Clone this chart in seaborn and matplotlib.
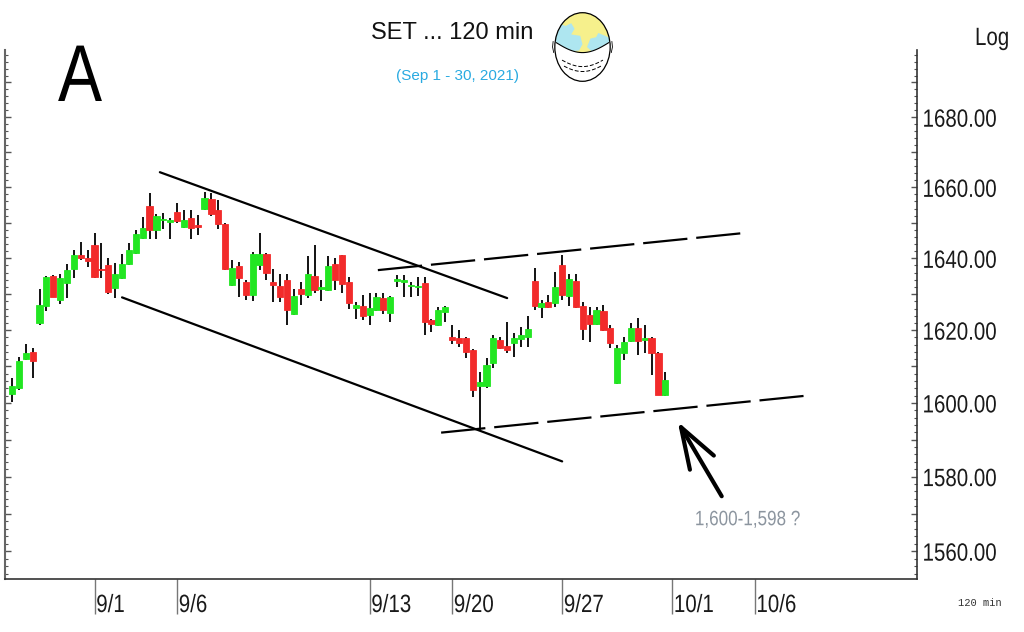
import numpy as np
import pandas as pd
import matplotlib
matplotlib.use('Agg')
import matplotlib.pyplot as plt
import matplotlib.ticker as mticker
import matplotlib.patheffects as pe
from matplotlib.transforms import Affine2D
from matplotlib.patches import Ellipse, Polygon
import seaborn as sns

# SET index, 120 min bars (4 per session), first bar three sessions before 9/1
opens = [1602.5, 1604.0, 1612.0, 1614.1, 1621.9, 1626.7, 1635.0, 1628.5, 1633.0, 1636.9,
         1641.0, 1640.2, 1643.7, 1637.0, 1638.1, 1631.7, 1634.6, 1638.3, 1641.5, 1645.8,
         1654.7, 1647.9, 1650.8, 1650.1, 1653.0, 1648.7, 1651.4, 1649.3, 1654.0, 1656.8,
         1653.5, 1649.6, 1632.5, 1637.8, 1633.3, 1629.7, 1638.1, 1641.1, 1633.3, 1632.2,
         1633.9, 1624.6, 1631.5, 1629.7, 1635.1, 1631.3, 1631.1, 1638.3, 1640.8, 1633.4,
         1626.2, 1626.6, 1624.2, 1625.7, 1628.8, 1624.8, 1633.6, 1633.4, 1632.2, 1632.0,
         1633.0, 1622.8, 1621.4, 1625.1, 1618.2, 1617.7, 1617.7, 1614.5, 1604.7, 1604.5,
         1610.9, 1617.3, 1615.6, 1616.4, 1617.5, 1618.2, 1633.7, 1626.3, 1627.9, 1627.4,
         1638.1, 1629.4, 1633.7, 1626.7, 1624.2, 1621.7, 1625.4, 1620.7, 1605.4, 1613.8,
         1617.1, 1620.7, 1617.3, 1617.7, 1613.6, 1602.2]
highs = [1606.8, 1612.7, 1616.2, 1615.0, 1631.4, 1635.0, 1635.3, 1635.7, 1638.3, 1642.3,
         1644.6, 1642.3, 1647.0, 1644.2, 1640.0, 1638.7, 1641.1, 1644.2, 1647.9, 1651.6,
         1658.4, 1652.6, 1652.7, 1651.2, 1655.6, 1653.5, 1653.7, 1652.1, 1658.7, 1658.4,
         1656.3, 1649.9, 1639.6, 1639.0, 1633.9, 1641.8, 1647.1, 1641.5, 1637.1, 1635.7,
         1635.5, 1631.3, 1633.4, 1640.6, 1643.7, 1633.9, 1640.6, 1640.2, 1641.0, 1634.8,
         1627.8, 1629.7, 1630.2, 1630.2, 1630.2, 1629.4, 1635.3, 1635.3, 1633.4, 1634.8,
         1634.8, 1623.0, 1626.5, 1626.7, 1621.4, 1620.0, 1618.0, 1614.8, 1608.6, 1612.2,
         1618.6, 1618.2, 1622.3, 1619.1, 1620.9, 1623.9, 1637.4, 1628.3, 1629.7, 1636.2,
         1640.8, 1635.5, 1635.5, 1627.9, 1626.5, 1626.5, 1626.9, 1621.4, 1615.9, 1618.2,
         1621.9, 1623.3, 1621.4, 1618.0, 1613.9, 1608.6]
lows = [1600.3, 1603.6, 1611.8, 1606.8, 1621.5, 1625.4, 1629.2, 1627.2, 1628.9, 1634.4,
        1639.4, 1637.5, 1634.4, 1634.4, 1630.0, 1628.8, 1634.3, 1638.0, 1641.2, 1645.5,
        1645.5, 1645.3, 1648.2, 1645.3, 1649.8, 1648.4, 1645.3, 1646.5, 1653.7, 1651.8,
        1648.1, 1636.6, 1632.2, 1629.1, 1628.3, 1628.1, 1636.7, 1633.9, 1627.8, 1627.8,
        1621.4, 1624.3, 1626.9, 1628.8, 1630.2, 1628.1, 1630.8, 1631.1, 1630.2, 1626.0,
        1623.0, 1622.8, 1621.4, 1625.4, 1624.6, 1622.3, 1632.0, 1629.1, 1629.1, 1629.4,
        1618.6, 1619.5, 1621.2, 1622.3, 1616.2, 1615.4, 1612.2, 1601.7, 1592.7, 1604.2,
        1609.5, 1614.7, 1613.6, 1612.5, 1615.3, 1615.4, 1625.6, 1623.5, 1626.2, 1626.5,
        1628.3, 1626.7, 1626.2, 1617.3, 1616.8, 1621.4, 1619.7, 1615.0, 1605.1, 1611.8,
        1616.8, 1613.2, 1613.6, 1607.7, 1602.2, 1602.0]
closes = [1604.7, 1611.6, 1613.8, 1611.5, 1626.9, 1634.8, 1629.2, 1634.6, 1636.7, 1640.8,
          1640.2, 1639.3, 1634.8, 1636.7, 1630.5, 1635.5, 1638.5, 1642.3, 1646.7, 1648.4,
          1647.9, 1651.8, 1651.0, 1650.9, 1650.5, 1650.9, 1648.4, 1648.8, 1657.0, 1652.6,
          1649.6, 1636.9, 1637.2, 1634.6, 1629.7, 1641.1, 1641.1, 1635.8, 1632.5, 1629.2,
          1625.6, 1629.4, 1630.0, 1635.7, 1631.1, 1632.0, 1637.8, 1633.9, 1632.8, 1627.4,
          1626.9, 1623.9, 1626.2, 1629.1, 1625.7, 1629.1, 1634.1, 1633.9, 1632.5, 1632.3,
          1622.3, 1621.7, 1625.6, 1626.5, 1617.3, 1616.5, 1614.1, 1603.4, 1605.8, 1610.4,
          1617.7, 1615.0, 1614.5, 1617.7, 1618.6, 1620.2, 1626.7, 1627.6, 1626.5, 1631.9,
          1629.7, 1634.1, 1626.5, 1620.2, 1621.7, 1625.6, 1620.0, 1616.5, 1615.0, 1616.8,
          1620.7, 1617.1, 1617.7, 1613.6, 1602.2, 1606.3]

tick_idx = [12, 24, 52, 64, 80, 96, 108]
tick_labels = ['9/1', '9/6', '9/13', '9/20', '9/27', '10/1', '10/6']
price_labels = [1560, 1580, 1600, 1620, 1640, 1660, 1680]

# hand drawn channel lines: (bar index list, price list)
down_top_x, down_top_y = [21.5, 72.0], [1664.3, 1628.9]
down_bot_x, down_bot_y = [16.0, 80.0], [1629.1, 1584.1]
up_top_x, up_top_y = [53.2, 105.9], [1636.7, 1647.0]
up_bot_x, up_bot_y = [62.4, 115.1], [1591.9, 1601.9]
arrow_tip = (96.8, 1594.9)
arrow_tail = (103.2, 1574.7)


class Condense(pe.AbstractPathEffect):
    # squeeze glyphs sideways so a regular sans looks like the narrow face of the original
    def __init__(self, sx=0.82):
        super().__init__()
        self.sx = sx

    def draw_path(self, renderer, gc, tpath, affine, rgbFace=None):
        renderer.draw_path(gc, tpath, Affine2D().scale(self.sx, 1) + affine, rgbFace)


narrow = [Condense(0.82)]

sns.set_theme(style='white')
plt.rcParams['font.family'] = ['Liberation Sans', 'DejaVu Sans']

df = pd.DataFrame({'open': opens, 'high': highs, 'low': lows, 'close': closes})
df['idx'] = np.arange(len(df))
df['up'] = df['close'] >= df['open']

fig = plt.figure(figsize=(10.24, 6.32), dpi=100)
ax = fig.add_axes([5 / 1024, 1 - 579 / 632, 912 / 1024, 529 / 632])

# candles: wicks first, bodies on top
colors = np.where(df['up'], '#22e622', '#f22b2b')
ax.vlines(df['idx'], df['low'], df['high'], color='black', lw=1.3, zorder=2)
ax.bar(df['idx'], (df['close'] - df['open']).abs(), bottom=df[['open', 'close']].min(axis=1),
       width=0.9, color=colors, edgecolor=colors, linewidth=0.6, zorder=3)

# trend channel
ax.plot(down_top_x, down_top_y, color='black', lw=1.6, zorder=4)
ax.plot(down_bot_x, down_bot_y, color='black', lw=1.6, zorder=4)
ax.plot(up_top_x, up_top_y, color='black', lw=1.6, ls=(0, (20, 4)), zorder=4)
ax.plot(up_bot_x, up_bot_y, color='black', lw=1.6, ls=(0, (20, 4)), zorder=4)
ax.annotate('', xy=arrow_tip, xytext=arrow_tail,
            arrowprops=dict(arrowstyle='->,head_length=0.74,head_width=0.25', lw=3,
                            color='black', mutation_scale=40, shrinkA=0, shrinkB=0))
ax.text(99.3, 1568.4, '1,600-1,598 ?', color='#8c959f', fontsize=15, ha='left', va='center',
        path_effects=narrow)

ax.set_yscale('log')
ax.set_xlim(-1.02, 131.6)
ax.set_ylim(1552.6, 1699.4)

ax.yaxis.set_major_locator(mticker.FixedLocator(np.arange(1560, 1700, 10)))
ax.yaxis.set_major_formatter(mticker.FuncFormatter(
    lambda v, p: f'{v:.2f}' if int(round(v)) in price_labels else ''))
ax.yaxis.set_minor_locator(mticker.FixedLocator(np.arange(1554, 1700, 2)))
ax.yaxis.set_minor_formatter(mticker.NullFormatter())
ax.tick_params(axis='y', which='both', direction='in', left=True, right=True,
               labelleft=False, labelright=True, color='#555555')
ax.tick_params(axis='y', which='major', length=4, width=1, pad=4, labelsize=18,
               labelcolor='#1a1a1a')
ax.tick_params(axis='y', which='minor', length=2.2, width=0.8)
for t in ax.yaxis.get_major_ticks():
    t.label2.set_path_effects(narrow)

ax.set_xticks(tick_idx)
ax.tick_params(axis='x', direction='out', bottom=True, length=25, width=1, color='#777777',
               labelbottom=False)
for i, lab in zip(tick_idx, tick_labels):
    ax.text(i + 0.25, -0.0624, lab, transform=ax.get_xaxis_transform(), ha='left',
            va='baseline', fontsize=18, color='#1a1a1a', clip_on=False, path_effects=narrow)

ax.spines['top'].set_visible(False)
ax.spines['left'].set_color('#666666')
ax.spines['left'].set_linewidth(1.5)
for s in ['bottom', 'right']:
    ax.spines[s].set_color('#333333')
    ax.spines[s].set_linewidth(1.2)

# header texts
fig.text(452 / 1024, 1 - 33 / 632, 'SET ... 120 min', fontsize=17, ha='center', va='center',
         color='#111111')
fig.text(458 / 1024, 1 - 76 / 632, '(Sep 1 - 30, 2021)', fontsize=11, ha='center',
         va='center', color='#29aae1')
fig.text(58 / 1024, 1 - 101 / 632, 'A', fontsize=58, ha='left', va='baseline', color='black',
         path_effects=narrow)
fig.text(975 / 1024, 1 - 45 / 632, 'Log', fontsize=18, ha='left', va='baseline',
         color='#1a1a1a', path_effects=narrow)
fig.text(958 / 1024, 1 - 603 / 632, '120 min', family=['Liberation Mono', 'DejaVu Sans Mono'],
         fontsize=7.5, ha='left', va='center', color='#333333')

# small masked globe logo
gax = fig.add_axes([552 / 1024, 1 - 82 / 632, 61 / 1024, 70 / 632])
gax.set_xlim(-0.04, 1.04)
gax.set_ylim(0, 1)
gax.axis('off')
globe = Ellipse((0.5, 0.5), 0.98, 0.98, fc='#f6f08c', ec='none')
gax.add_patch(globe)
for pts in [[(0, 0.62), (0.08, 0.84), (0.2, 0.8), (0.3, 0.84), (0.36, 0.76), (0.3, 0.68),
             (0.46, 0.66), (0.5, 0.54), (0.44, 0.45), (0.3, 0.44), (0, 0.46)],
            [(0.58, 0.5), (0.64, 0.62), (0.74, 0.64), (0.78, 0.7), (0.9, 0.66), (1, 0.62),
             (1, 0.46), (0.8, 0.42), (0.66, 0.44)]]:
    land = Polygon(pts, closed=True, fc='#aee6f0', ec='none')
    gax.add_patch(land)
    land.set_clip_path(globe)
mx = np.linspace(0, 1, 30)
my = 0.58 - 0.16 * np.sin(np.pi * mx)
mask = Polygon(list(zip(mx, my)) + [(1, 0), (0, 0)], closed=True, fc='white', ec='none')
gax.add_patch(mask)
mask.set_clip_path(globe)
gax.plot(mx[1:-1], my[1:-1], color='black', lw=0.8)
gax.plot(mx[4:-4], my[4:-4] - 0.2, color='black', lw=0.7, ls=(0, (4, 2)))
gax.plot(mx[5:-5], my[5:-5] - 0.27, color='black', lw=0.7, ls=(0, (4, 2)))
gax.plot([-0.02, -0.03, -0.01], [0.58, 0.5, 0.42], color='black', lw=0.6)
gax.plot([1.02, 1.03, 1.01], [0.58, 0.5, 0.42], color='black', lw=0.6)
gax.add_patch(Ellipse((0.5, 0.5), 0.98, 0.98, fc='none', ec='black', lw=0.9))

fig.savefig('out.png', dpi=100)
